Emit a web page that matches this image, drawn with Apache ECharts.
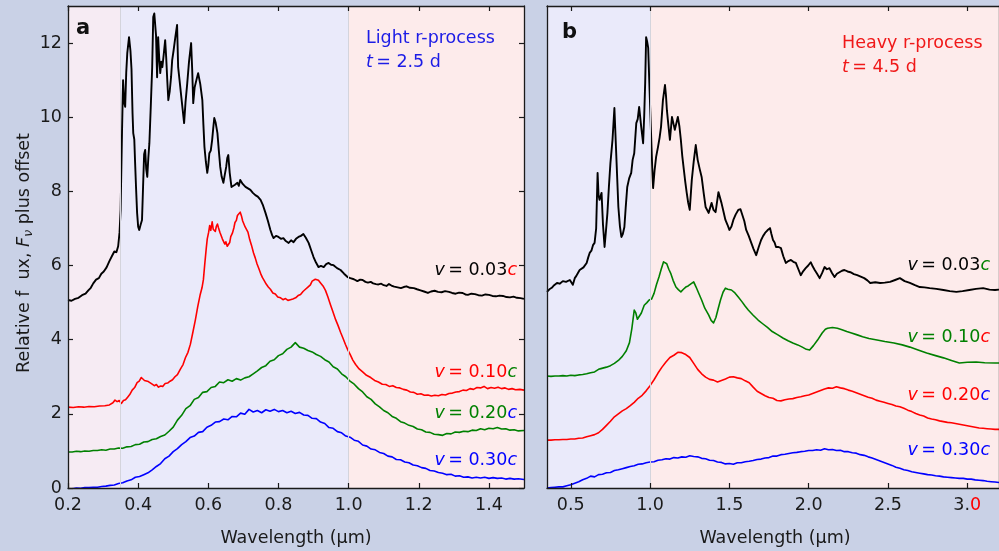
<!DOCTYPE html>
<html>
<head>
<meta charset="utf-8">
<script src="https://cdn.jsdelivr.net/npm/echarts@6.0.0/dist/echarts.min.js"></script>
<style>
  html, body { margin: 0; padding: 0; background: #c9d1e6; }
  #chart { width: 999px; height: 551px; }
</style>
</head>
<body>
<div id="chart"></div>
<script>
// Tick positions
const lightTicks = [0.2, 0.4, 0.6, 0.8, 1.0, 1.2, 1.4];
const heavyTicks = [0.5, 1.0, 1.5, 2.0, 2.5, 3.0];
const fluxTicks = [0, 2, 4, 6, 8, 10, 12];

// Panel a: light r-process, t = 2.5 d  ([wavelength µm, flux + offset])
const lightV003 = [
[0.200,5.07],[0.210,5.05],[0.220,5.10],[0.230,5.13],[0.240,5.20],[0.250,5.24],[0.258,5.33],[0.265,5.40],[0.272,5.52],[0.280,5.62],[0.288,5.66],[0.295,5.78],[0.302,5.84],[0.310,5.95],[0.318,6.12],[0.325,6.25],[0.332,6.38],[0.338,6.36],[0.343,6.52],[0.347,6.9],[0.350,7.5],[0.354,9.6],[0.357,11.00],[0.360,10.4],[0.363,10.28],[0.366,11.2],[0.369,11.73],[0.374,12.16],[0.378,11.8],[0.381,11.3],[0.384,10.1],[0.386,9.57],[0.389,9.4],[0.391,8.85],[0.394,8.1],[0.397,7.42],[0.400,7.05],[0.403,6.96],[0.407,7.1],[0.411,7.23],[0.414,8.12],[0.417,9.0],[0.420,9.12],[0.423,8.6],[0.426,8.39],[0.429,8.9],[0.432,9.3],[0.436,10.3],[0.440,11.35],[0.443,12.70],[0.446,12.8],[0.449,12.84],[0.451,12.2],[0.454,11.08],[0.457,12.16],[0.460,11.6],[0.463,11.19],[0.466,11.5],[0.469,11.35],[0.473,11.7],[0.477,12.08],[0.480,11.6],[0.483,11.00],[0.486,10.46],[0.490,10.7],[0.494,11.1],[0.497,11.54],[0.501,11.8],[0.506,12.16],[0.511,12.49],[0.514,11.35],[0.518,11.0],[0.523,10.55],[0.527,10.2],[0.531,9.84],[0.535,10.4],[0.540,10.92],[0.545,11.5],[0.551,12.00],[0.554,11.3],[0.557,10.38],[0.561,10.8],[0.566,11.00],[0.571,11.19],[0.577,10.9],[0.583,10.46],[0.586,9.8],[0.589,9.20],[0.593,8.8],[0.597,8.50],[0.600,8.7],[0.603,9.03],[0.607,9.1],[0.611,9.39],[0.614,9.7],[0.617,9.98],[0.621,9.85],[0.626,9.57],[0.630,9.1],[0.634,8.66],[0.638,8.4],[0.643,8.23],[0.647,8.45],[0.651,8.66],[0.654,8.9],[0.657,8.98],[0.661,8.5],[0.666,8.12],[0.671,8.09],[0.676,8.18],[0.683,8.23],[0.687,8.15],[0.691,8.31],[0.698,8.2],[0.706,8.12],[0.713,8.08],[0.720,8.04],[0.727,7.96],[0.734,7.90],[0.741,7.86],[0.749,7.77],[0.756,7.62],[0.763,7.42],[0.770,7.2],[0.777,6.96],[0.782,6.82],[0.786,6.74],[0.793,6.80],[0.800,6.77],[0.807,6.72],[0.814,6.74],[0.821,6.66],[0.829,6.61],[0.836,6.68],[0.843,6.63],[0.850,6.72],[0.857,6.77],[0.864,6.80],[0.871,6.85],[0.878,6.75],[0.886,6.61],[0.893,6.42],[0.900,6.23],[0.907,6.08],[0.914,5.96],[0.921,5.99],[0.929,5.96],[0.936,6.04],[0.943,6.07],[0.950,6.02],[0.957,6.01],[0.967,5.93],[0.977,5.88],[0.987,5.78],[0.997,5.69],[1.005,5.66],[1.015,5.63],[1.025,5.58],[1.033,5.62],[1.040,5.61],[1.048,5.56],[1.055,5.54],[1.063,5.56],[1.070,5.52],[1.078,5.50],[1.085,5.49],[1.093,5.51],[1.100,5.47],[1.108,5.45],[1.115,5.50],[1.122,5.46],[1.130,5.43],[1.140,5.41],[1.149,5.39],[1.157,5.42],[1.165,5.44],[1.175,5.40],[1.186,5.39],[1.195,5.36],[1.205,5.33],[1.215,5.30],[1.226,5.26],[1.235,5.30],[1.245,5.32],[1.255,5.29],[1.265,5.28],[1.275,5.31],[1.286,5.29],[1.295,5.26],[1.305,5.24],[1.315,5.27],[1.325,5.26],[1.333,5.22],[1.340,5.21],[1.350,5.24],[1.360,5.23],[1.370,5.20],[1.380,5.19],[1.390,5.22],[1.400,5.21],[1.410,5.18],[1.420,5.17],[1.430,5.19],[1.440,5.18],[1.450,5.15],[1.460,5.14],[1.470,5.16],[1.480,5.13],[1.490,5.12],[1.500,5.10]
];
const lightV010 = [
[0.200,2.18],[0.215,2.17],[0.230,2.19],[0.245,2.18],[0.260,2.20],[0.275,2.19],[0.290,2.21],[0.305,2.22],[0.318,2.24],[0.328,2.30],[0.334,2.37],[0.340,2.33],[0.346,2.36],[0.352,2.28],[0.358,2.36],[0.364,2.38],[0.370,2.45],[0.376,2.52],[0.383,2.64],[0.390,2.71],[0.397,2.84],[0.403,2.88],[0.409,2.98],[0.414,2.97],[0.418,2.90],[0.423,2.95],[0.429,2.87],[0.434,2.83],[0.440,2.80],[0.446,2.76],[0.452,2.79],[0.458,2.72],[0.464,2.75],[0.470,2.74],[0.477,2.82],[0.484,2.83],[0.491,2.88],[0.498,2.92],[0.505,3.00],[0.512,3.06],[0.520,3.20],[0.528,3.33],[0.535,3.52],[0.542,3.66],[0.549,3.88],[0.556,4.20],[0.563,4.53],[0.570,4.90],[0.577,5.22],[0.582,5.40],[0.586,5.62],[0.590,6.05],[0.594,6.45],[0.597,6.72],[0.601,6.90],[0.604,7.08],[0.607,6.95],[0.611,7.18],[0.614,6.98],[0.617,7.02],[0.620,6.92],[0.623,7.06],[0.626,7.12],[0.629,7.02],[0.633,6.90],[0.636,6.85],[0.640,6.72],[0.643,6.70],[0.647,6.58],[0.650,6.64],[0.654,6.52],[0.657,6.56],[0.661,6.62],[0.664,6.78],[0.669,6.88],[0.673,7.02],[0.676,7.16],[0.680,7.22],[0.683,7.35],[0.687,7.30],[0.691,7.44],[0.695,7.32],[0.698,7.20],[0.702,7.16],[0.705,7.04],[0.709,7.00],[0.713,6.90],[0.718,6.70],[0.723,6.55],[0.729,6.34],[0.734,6.20],[0.739,6.04],[0.744,5.92],[0.749,5.79],[0.754,5.68],[0.759,5.60],[0.765,5.50],[0.771,5.42],[0.777,5.36],[0.784,5.26],[0.791,5.23],[0.798,5.15],[0.806,5.13],[0.813,5.08],[0.820,5.11],[0.827,5.06],[0.834,5.08],[0.841,5.10],[0.849,5.13],[0.856,5.19],[0.863,5.22],[0.870,5.30],[0.877,5.36],[0.884,5.42],[0.891,5.48],[0.896,5.58],[0.900,5.55],[0.905,5.63],[0.909,5.66],[0.914,5.60],[0.920,5.53],[0.927,5.45],[0.934,5.33],[0.941,5.15],[0.948,4.95],[0.955,4.76],[0.963,4.54],[0.970,4.38],[0.977,4.20],[0.984,4.04],[0.991,3.87],[0.998,3.72],[1.005,3.59],[1.012,3.45],[1.020,3.33],[1.030,3.21],[1.040,3.13],[1.051,3.04],[1.063,2.98],[1.074,2.90],[1.085,2.86],[1.096,2.80],[1.106,2.79],[1.116,2.74],[1.126,2.76],[1.136,2.71],[1.146,2.70],[1.156,2.66],[1.166,2.64],[1.176,2.59],[1.186,2.58],[1.196,2.53],[1.206,2.54],[1.216,2.50],[1.226,2.51],[1.236,2.48],[1.246,2.50],[1.256,2.49],[1.266,2.52],[1.276,2.51],[1.286,2.55],[1.296,2.56],[1.306,2.59],[1.316,2.60],[1.326,2.64],[1.336,2.63],[1.346,2.68],[1.356,2.66],[1.366,2.71],[1.376,2.70],[1.386,2.74],[1.396,2.68],[1.406,2.71],[1.416,2.69],[1.426,2.72],[1.436,2.68],[1.446,2.70],[1.456,2.66],[1.466,2.68],[1.476,2.65],[1.488,2.66],[1.500,2.64]
];
const lightV020 = [
[0.200,0.97],[0.212,0.97],[0.224,0.99],[0.236,0.98],[0.248,1.00],[0.260,0.99],[0.272,1.01],[0.284,1.01],[0.296,1.03],[0.308,1.02],[0.320,1.05],[0.332,1.05],[0.344,1.08],[0.356,1.07],[0.368,1.11],[0.380,1.12],[0.392,1.17],[0.404,1.18],[0.416,1.24],[0.428,1.25],[0.440,1.31],[0.452,1.33],[0.464,1.39],[0.476,1.43],[0.488,1.53],[0.500,1.64],[0.512,1.83],[0.524,1.96],[0.536,2.14],[0.548,2.22],[0.560,2.39],[0.572,2.44],[0.584,2.58],[0.596,2.60],[0.608,2.71],[0.620,2.74],[0.632,2.86],[0.644,2.84],[0.656,2.92],[0.668,2.88],[0.680,2.95],[0.692,2.91],[0.704,2.97],[0.716,3.00],[0.728,3.08],[0.740,3.16],[0.752,3.25],[0.764,3.30],[0.776,3.42],[0.788,3.46],[0.800,3.57],[0.812,3.62],[0.824,3.74],[0.836,3.80],[0.848,3.92],[0.860,3.80],[0.872,3.77],[0.884,3.71],[0.896,3.67],[0.908,3.60],[0.920,3.55],[0.932,3.46],[0.944,3.40],[0.956,3.27],[0.968,3.21],[0.980,3.08],[0.992,3.00],[1.004,2.88],[1.016,2.80],[1.028,2.68],[1.040,2.59],[1.052,2.46],[1.064,2.39],[1.076,2.27],[1.088,2.19],[1.100,2.09],[1.112,2.03],[1.124,1.93],[1.136,1.88],[1.148,1.79],[1.160,1.75],[1.172,1.69],[1.184,1.66],[1.196,1.59],[1.208,1.57],[1.220,1.51],[1.232,1.50],[1.244,1.45],[1.256,1.44],[1.268,1.42],[1.280,1.47],[1.292,1.46],[1.304,1.51],[1.316,1.50],[1.328,1.53],[1.340,1.52],[1.352,1.56],[1.364,1.55],[1.376,1.60],[1.388,1.57],[1.400,1.61],[1.412,1.60],[1.424,1.63],[1.436,1.59],[1.448,1.60],[1.460,1.56],[1.472,1.57],[1.484,1.54],[1.500,1.55]
];
const lightV030 = [
[0.200,-0.03],[0.212,-0.02],[0.224,0.00],[0.236,-0.01],[0.248,0.01],[0.260,0.01],[0.272,0.02],[0.284,0.02],[0.296,0.04],[0.308,0.05],[0.320,0.07],[0.332,0.08],[0.344,0.12],[0.356,0.14],[0.368,0.19],[0.380,0.22],[0.392,0.29],[0.404,0.31],[0.416,0.36],[0.428,0.41],[0.440,0.49],[0.452,0.58],[0.464,0.66],[0.476,0.79],[0.488,0.86],[0.500,0.98],[0.512,1.06],[0.524,1.17],[0.536,1.25],[0.548,1.36],[0.560,1.40],[0.572,1.50],[0.584,1.52],[0.596,1.64],[0.608,1.69],[0.620,1.78],[0.632,1.79],[0.644,1.86],[0.656,1.84],[0.668,1.93],[0.680,1.92],[0.692,2.02],[0.704,1.99],[0.716,2.12],[0.728,2.05],[0.740,2.09],[0.752,2.03],[0.764,2.11],[0.776,2.07],[0.788,2.12],[0.800,2.06],[0.812,2.09],[0.824,2.03],[0.836,2.07],[0.848,2.01],[0.860,2.04],[0.872,1.97],[0.884,1.96],[0.896,1.88],[0.908,1.87],[0.920,1.78],[0.932,1.74],[0.944,1.63],[0.956,1.61],[0.968,1.52],[0.980,1.49],[0.992,1.40],[1.004,1.37],[1.016,1.29],[1.028,1.26],[1.040,1.16],[1.052,1.13],[1.064,1.05],[1.076,1.03],[1.088,0.96],[1.100,0.93],[1.112,0.86],[1.124,0.84],[1.136,0.77],[1.148,0.76],[1.160,0.70],[1.172,0.68],[1.184,0.62],[1.196,0.60],[1.208,0.55],[1.220,0.53],[1.232,0.47],[1.244,0.46],[1.256,0.42],[1.268,0.40],[1.280,0.36],[1.292,0.37],[1.304,0.32],[1.316,0.33],[1.328,0.29],[1.340,0.30],[1.352,0.27],[1.364,0.29],[1.376,0.27],[1.388,0.29],[1.400,0.26],[1.412,0.28],[1.424,0.26],[1.436,0.27],[1.448,0.24],[1.460,0.26],[1.472,0.24],[1.484,0.25],[1.500,0.23]
];

// Panel b: heavy r-process, t = 4.5 d
const heavyV003 = [
[0.350,5.29],[0.365,5.36],[0.380,5.40],[0.395,5.47],[0.413,5.53],[0.430,5.51],[0.450,5.58],[0.470,5.56],[0.494,5.61],[0.503,5.55],[0.513,5.48],[0.525,5.66],[0.535,5.72],[0.545,5.80],[0.556,5.88],[0.568,5.84],[0.580,5.95],[0.590,5.98],[0.600,6.07],[0.610,6.22],[0.619,6.34],[0.630,6.40],[0.640,6.55],[0.650,6.61],[0.660,7.0],[0.669,8.50],[0.675,7.9],[0.681,7.77],[0.694,7.96],[0.703,7.1],[0.713,6.50],[0.722,6.95],[0.731,7.42],[0.740,8.1],[0.750,8.77],[0.763,9.39],[0.775,10.25],[0.788,8.85],[0.800,7.58],[0.810,7.05],[0.819,6.77],[0.828,6.85],[0.838,7.04],[0.846,7.55],[0.856,8.12],[0.868,8.35],[0.881,8.50],[0.890,8.85],[0.900,9.03],[0.913,9.84],[0.922,9.95],[0.931,10.28],[0.944,9.74],[0.956,9.30],[0.963,10.05],[0.969,10.92],[0.975,12.16],[0.981,12.05],[0.988,11.87],[0.997,10.70],[1.006,9.57],[1.013,8.70],[1.019,8.09],[1.028,8.55],[1.038,8.93],[1.050,9.20],[1.060,9.45],[1.069,9.74],[1.081,10.46],[1.094,10.87],[1.100,10.60],[1.106,10.19],[1.115,9.80],[1.125,9.39],[1.138,10.01],[1.156,9.66],[1.175,10.01],[1.185,9.75],[1.194,9.39],[1.203,8.95],[1.213,8.58],[1.222,8.25],[1.231,7.96],[1.240,7.70],[1.250,7.50],[1.263,8.31],[1.275,8.80],[1.288,9.25],[1.300,8.85],[1.313,8.60],[1.325,8.39],[1.338,7.95],[1.350,7.58],[1.369,7.42],[1.388,7.69],[1.400,7.50],[1.413,7.44],[1.431,7.98],[1.450,7.69],[1.463,7.45],[1.475,7.23],[1.488,7.10],[1.500,6.96],[1.513,7.05],[1.525,7.23],[1.540,7.38],[1.556,7.50],[1.570,7.52],[1.581,7.48],[1.594,7.20],[1.606,6.96],[1.622,6.80],[1.638,6.61],[1.652,6.45],[1.669,6.28],[1.685,6.50],[1.700,6.69],[1.713,6.80],[1.725,6.88],[1.740,6.95],[1.756,7.01],[1.765,6.85],[1.775,6.69],[1.785,6.62],[1.794,6.50],[1.810,6.50],[1.825,6.47],[1.840,6.25],[1.856,6.07],[1.872,6.12],[1.888,6.15],[1.903,6.10],[1.919,6.07],[1.935,5.90],[1.950,5.74],[1.966,5.85],[1.981,5.93],[1.997,6.00],[2.013,6.09],[2.025,5.98],[2.038,5.88],[2.053,5.78],[2.069,5.66],[2.085,5.80],[2.100,5.96],[2.115,5.90],[2.131,5.93],[2.147,5.80],[2.163,5.69],[2.178,5.78],[2.194,5.82],[2.210,5.86],[2.225,5.88],[2.245,5.84],[2.263,5.82],[2.285,5.77],[2.306,5.74],[2.328,5.70],[2.350,5.66],[2.370,5.60],[2.388,5.53],[2.420,5.55],[2.450,5.53],[2.480,5.54],[2.513,5.56],[2.545,5.61],[2.575,5.66],[2.605,5.58],[2.638,5.53],[2.670,5.47],[2.700,5.42],[2.730,5.41],[2.763,5.39],[2.805,5.37],[2.850,5.34],[2.890,5.31],[2.931,5.29],[2.970,5.31],[3.013,5.34],[3.055,5.37],[3.100,5.39],[3.140,5.35],[3.175,5.34],[3.200,5.35]
];
const heavyV010 = [
[0.350,3.02],[0.375,3.01],[0.400,3.02],[0.425,3.02],[0.450,3.03],[0.475,3.02],[0.500,3.04],[0.525,3.03],[0.550,3.05],[0.575,3.06],[0.600,3.08],[0.625,3.11],[0.650,3.13],[0.675,3.20],[0.690,3.22],[0.700,3.18],[0.725,3.26],[0.750,3.30],[0.775,3.36],[0.800,3.44],[0.825,3.55],[0.850,3.70],[0.870,3.92],[0.885,4.30],[0.900,4.80],[0.910,4.72],[0.920,4.55],[0.931,4.50],[0.945,4.72],[0.963,4.93],[0.980,5.00],[0.994,5.07],[1.010,5.10],[1.025,5.25],[1.040,5.48],[1.056,5.69],[1.070,5.90],[1.085,6.10],[1.094,6.15],[1.105,6.05],[1.118,5.90],[1.131,5.78],[1.145,5.60],[1.163,5.42],[1.178,5.35],[1.194,5.29],[1.210,5.36],[1.225,5.42],[1.240,5.45],[1.255,5.50],[1.275,5.56],[1.290,5.42],[1.306,5.26],[1.325,5.07],[1.345,4.85],[1.369,4.67],[1.385,4.52],[1.400,4.45],[1.415,4.60],[1.430,4.85],[1.444,5.07],[1.460,5.28],[1.475,5.39],[1.490,5.36],[1.513,5.34],[1.535,5.26],[1.556,5.15],[1.580,5.02],[1.600,4.90],[1.619,4.80],[1.650,4.66],[1.681,4.53],[1.710,4.43],[1.740,4.33],[1.770,4.22],[1.806,4.13],[1.840,4.04],[1.870,3.97],[1.900,3.91],[1.931,3.86],[1.960,3.80],[1.985,3.74],[2.006,3.72],[2.030,3.84],[2.056,3.99],[2.085,4.18],[2.105,4.28],[2.119,4.31],[2.150,4.33],[2.181,4.31],[2.210,4.27],[2.240,4.22],[2.270,4.18],[2.306,4.13],[2.340,4.08],[2.380,4.03],[2.431,3.99],[2.480,3.95],[2.538,3.91],[2.590,3.86],[2.638,3.80],[2.690,3.72],[2.744,3.64],[2.800,3.57],[2.850,3.51],[2.900,3.44],[2.950,3.37],[3.000,3.39],[3.056,3.40],[3.110,3.38],[3.175,3.37],[3.200,3.37]
];
const heavyV020 = [
[0.350,1.29],[0.375,1.29],[0.400,1.30],[0.425,1.30],[0.450,1.31],[0.475,1.31],[0.500,1.32],[0.525,1.32],[0.550,1.34],[0.575,1.35],[0.600,1.38],[0.625,1.41],[0.650,1.44],[0.675,1.49],[0.700,1.58],[0.725,1.69],[0.750,1.80],[0.775,1.92],[0.800,2.00],[0.825,2.08],[0.850,2.14],[0.875,2.22],[0.900,2.31],[0.925,2.42],[0.950,2.50],[0.975,2.62],[1.000,2.76],[1.025,2.92],[1.050,3.10],[1.075,3.26],[1.100,3.40],[1.125,3.52],[1.150,3.58],[1.175,3.66],[1.200,3.65],[1.225,3.60],[1.250,3.52],[1.275,3.36],[1.300,3.20],[1.325,3.08],[1.350,2.99],[1.375,2.93],[1.400,2.91],[1.425,2.86],[1.450,2.90],[1.475,2.94],[1.500,2.99],[1.525,3.00],[1.550,2.97],[1.575,2.95],[1.600,2.89],[1.625,2.84],[1.650,2.72],[1.675,2.61],[1.700,2.55],[1.725,2.49],[1.750,2.44],[1.775,2.42],[1.800,2.36],[1.825,2.35],[1.850,2.38],[1.875,2.40],[1.900,2.41],[1.925,2.44],[1.950,2.46],[1.975,2.49],[2.000,2.51],[2.025,2.55],[2.050,2.59],[2.075,2.63],[2.100,2.67],[2.125,2.70],[2.150,2.69],[2.175,2.73],[2.200,2.70],[2.225,2.68],[2.250,2.64],[2.275,2.61],[2.300,2.57],[2.325,2.53],[2.350,2.49],[2.375,2.45],[2.400,2.42],[2.425,2.37],[2.450,2.34],[2.475,2.31],[2.500,2.28],[2.525,2.25],[2.550,2.21],[2.575,2.19],[2.600,2.15],[2.625,2.10],[2.650,2.06],[2.675,2.01],[2.700,1.97],[2.725,1.94],[2.750,1.89],[2.775,1.86],[2.800,1.84],[2.825,1.81],[2.850,1.79],[2.875,1.77],[2.900,1.76],[2.925,1.74],[2.950,1.72],[2.975,1.70],[3.000,1.68],[3.025,1.66],[3.050,1.64],[3.075,1.62],[3.100,1.61],[3.125,1.60],[3.150,1.59],[3.175,1.58],[3.200,1.58]
];
const heavyV030 = [
[0.350,0.00],[0.375,0.01],[0.400,0.02],[0.425,0.03],[0.450,0.03],[0.475,0.06],[0.500,0.09],[0.525,0.13],[0.550,0.17],[0.575,0.22],[0.600,0.26],[0.625,0.32],[0.650,0.30],[0.675,0.36],[0.700,0.37],[0.725,0.41],[0.750,0.42],[0.775,0.47],[0.800,0.49],[0.825,0.52],[0.850,0.55],[0.875,0.58],[0.900,0.60],[0.925,0.64],[0.950,0.65],[0.975,0.68],[1.000,0.70],[1.025,0.71],[1.050,0.75],[1.075,0.76],[1.100,0.79],[1.125,0.78],[1.150,0.82],[1.175,0.81],[1.200,0.84],[1.225,0.83],[1.250,0.87],[1.275,0.85],[1.300,0.84],[1.325,0.80],[1.350,0.79],[1.375,0.75],[1.400,0.74],[1.425,0.70],[1.450,0.69],[1.475,0.65],[1.500,0.66],[1.525,0.64],[1.550,0.68],[1.575,0.68],[1.600,0.71],[1.625,0.72],[1.650,0.74],[1.675,0.77],[1.700,0.78],[1.725,0.81],[1.750,0.82],[1.775,0.86],[1.800,0.86],[1.825,0.90],[1.850,0.91],[1.875,0.93],[1.900,0.95],[1.925,0.96],[1.950,0.98],[1.975,0.99],[2.000,1.01],[2.025,1.01],[2.050,1.03],[2.075,1.02],[2.100,1.06],[2.125,1.03],[2.150,1.04],[2.175,1.01],[2.200,1.02],[2.225,0.98],[2.250,0.98],[2.275,0.95],[2.300,0.94],[2.325,0.90],[2.350,0.88],[2.375,0.84],[2.400,0.81],[2.425,0.77],[2.450,0.73],[2.475,0.69],[2.500,0.65],[2.525,0.61],[2.550,0.56],[2.575,0.53],[2.600,0.49],[2.625,0.47],[2.650,0.44],[2.675,0.42],[2.700,0.40],[2.725,0.38],[2.750,0.36],[2.775,0.35],[2.800,0.33],[2.825,0.32],[2.850,0.30],[2.875,0.29],[2.900,0.28],[2.925,0.27],[2.950,0.26],[2.975,0.26],[3.000,0.24],[3.025,0.24],[3.050,0.22],[3.075,0.21],[3.100,0.20],[3.125,0.18],[3.150,0.17],[3.175,0.16],[3.200,0.15]
];

const FONT = "'DejaVu Sans', sans-serif";
const AXIS_COLOR = '#1a1a1a';
const C = { black: '#000000', red: '#ff0000', green: '#008000', blue: '#0000ff' };
const BG = { lav: '#eaeafa', pink: '#fdebeb', mix: '#f6ebf3' };

const chart = echarts.init(document.getElementById('chart'), null, { renderer: 'canvas' });

function xAx(grid, min, max, ticks, pos, labels, fmt) {
  return {
    type: 'value', gridIndex: grid, min: min, max: max, position: pos, z: 10,
    splitLine: { show: false },
    axisLine: { show: true, onZero: false, lineStyle: { color: AXIS_COLOR, width: 1.3 } },
    axisTick: { show: true, inside: true, length: 5, customValues: ticks, lineStyle: { color: AXIS_COLOR, width: 1.2 } },
    axisLabel: labels ? {
      show: true, customValues: ticks, margin: 8, color: '#1a1a1a', fontSize: 17.5, fontFamily: FONT,
      formatter: fmt,
      rich: {
        k: { color: '#1a1a1a', fontSize: 17.5, fontFamily: FONT },
        r: { color: C.red, fontSize: 17.5, fontFamily: FONT }
      }
    } : { show: false }
  };
}
function yAx(grid, pos, ticks, labels) {
  return {
    type: 'value', gridIndex: grid, min: 0, max: 13, position: pos, z: 10,
    splitLine: { show: false },
    axisLine: { show: true, onZero: false, lineStyle: { color: AXIS_COLOR, width: 1.3 } },
    axisTick: ticks ? { show: true, inside: true, length: 5, customValues: fluxTicks, lineStyle: { color: AXIS_COLOR, width: 1.2 } } : { show: false },
    axisLabel: labels ? { show: true, customValues: fluxTicks, margin: 6, color: '#1a1a1a', fontSize: 17.5, fontFamily: FONT } : { show: false }
  };
}

function spectrum(data, color, xi, yi, w) {
  return {
    type: 'line', data: data, xAxisIndex: xi, yAxisIndex: yi, z: 3,
    showSymbol: false, symbol: 'none', smooth: false, silent: true,
    lineStyle: { color: color, width: w || 1.6, join: 'round' }
  };
}

function backdrop(xi, yi, areas, lines) {
  return {
    type: 'line', data: [], xAxisIndex: xi, yAxisIndex: yi, z: 1, silent: true,
    markArea: { silent: true, data: areas.map(a => [{ xAxis: a[0], itemStyle: { color: a[2] } }, { xAxis: a[1] }]) },
    markLine: { silent: true, symbol: ['none', 'none'], label: { show: false },
      lineStyle: { color: '#d4d4dc', width: 1, type: 'solid' },
      data: lines.map(v => ({ xAxis: v })) }
  };
}

const velLabel = (x, y, num, numColor, cColor) => ({
  type: 'text', x: x, y: y, z: 20,
  style: {
    text: '{v|v} {n|= ' + num + '}{c|c}',
    align: 'right', verticalAlign: 'middle',
    rich: {
      v: { fontFamily: FONT, fontSize: 17.5, fontStyle: 'italic', fill: numColor },
      n: { fontFamily: FONT, fontSize: 17.5, fill: numColor },
      c: { fontFamily: FONT, fontSize: 17.5, fontStyle: 'italic', fill: cColor }
    }
  }
});

const option = {
  backgroundColor: '#c9d1e6',
  animation: false,
  grid: [
    { left: 68, top: 6, width: 456, height: 482 },
    { left: 547, top: 6, width: 456, height: 482 }
  ],
  xAxis: [
    xAx(0, 0.2, 1.5, lightTicks, 'bottom', true, v => v.toFixed(1)),
    xAx(0, 0.2, 1.5, lightTicks, 'top', false),
    xAx(1, 0.35, 3.2, heavyTicks, 'bottom', true, v => (Math.abs(v - 3) < 1e-9 ? '{k|3.}{r|0}' : v.toFixed(1))),
    xAx(1, 0.35, 3.2, heavyTicks, 'top', false)
  ],
  yAxis: [
    yAx(0, 'left', true, true),
    yAx(0, 'right', true, false),
    yAx(1, 'left', false, false),
    yAx(1, 'right', false, false)
  ],
  series: [
    backdrop(0, 0, [[0.2, 0.35, BG.mix], [0.35, 1.0, BG.lav], [1.0, 1.5, BG.pink]], [0.35, 1.0]),
    backdrop(2, 2, [[0.35, 1.0, BG.lav], [1.0, 3.2, BG.pink]], [1.0]),
    spectrum(lightV030, C.blue, 0, 0),
    spectrum(lightV020, C.green, 0, 0),
    spectrum(lightV010, C.red, 0, 0),
    spectrum(lightV003, C.black, 0, 0, 1.9),
    spectrum(heavyV030, C.blue, 2, 2),
    spectrum(heavyV020, C.red, 2, 2),
    spectrum(heavyV010, C.green, 2, 2),
    spectrum(heavyV003, C.black, 2, 2, 1.9)
  ],
  graphic: [
    { type: 'text', x: 76, y: 29, z: 20, style: { text: 'a', font: 'bold 21px ' + FONT, fill: '#111', verticalAlign: 'middle' } },
    { type: 'text', x: 562, y: 33, z: 20, style: { text: 'b', font: 'bold 21px ' + FONT, fill: '#111', verticalAlign: 'middle' } },
    { type: 'text', x: 366, y: 38, z: 20, style: { text: 'Light r-process', font: '17.5px ' + FONT, fill: '#1c1ce6', verticalAlign: 'middle' } },
    { type: 'text', x: 366, y: 62, z: 20, style: {
        text: '{i|t} {n|= 2.5 d}', verticalAlign: 'middle',
        rich: { i: { fontFamily: FONT, fontSize: 17.5, fontStyle: 'italic', fill: '#1c1ce6' }, n: { fontFamily: FONT, fontSize: 17.5, fill: '#1c1ce6' } } } },
    { type: 'text', x: 842, y: 43, z: 20, style: { text: 'Heavy r-process', font: '17.5px ' + FONT, fill: '#f01818', verticalAlign: 'middle' } },
    { type: 'text', x: 842, y: 67, z: 20, style: {
        text: '{i|t} {n|= 4.5 d}', verticalAlign: 'middle',
        rich: { i: { fontFamily: FONT, fontSize: 17.5, fontStyle: 'italic', fill: '#f01818' }, n: { fontFamily: FONT, fontSize: 17.5, fill: '#f01818' } } } },
    velLabel(517, 270, '0.03', C.black, C.red),
    velLabel(517, 372, '0.10', C.red, C.green),
    velLabel(517, 413, '0.20', C.green, C.blue),
    velLabel(517, 460, '0.30', C.blue, C.blue),
    velLabel(990, 265, '0.03', C.black, C.green),
    velLabel(990, 337, '0.10', C.green, C.red),
    velLabel(990, 395, '0.20', C.red, C.blue),
    velLabel(990, 450, '0.30', C.blue, C.blue),
    { type: 'text', x: 296, y: 538, z: 20, style: { text: 'Wavelength (µm)', font: '17.5px ' + FONT, fill: '#1a1a1a', align: 'center', verticalAlign: 'middle' } },
    { type: 'text', x: 775, y: 538, z: 20, style: { text: 'Wavelength (µm)', font: '17.5px ' + FONT, fill: '#1a1a1a', align: 'center', verticalAlign: 'middle' } },
    { type: 'text', x: 24, y: 253, z: 20, rotation: Math.PI / 2, style: {
        text: '{n|Relative f  ux, }{i|F}{s|ν}{n| plus offset}', align: 'center', verticalAlign: 'middle',
        rich: {
          n: { fontFamily: FONT, fontSize: 17.5, fill: '#1a1a1a' },
          i: { fontFamily: FONT, fontSize: 17.5, fontStyle: 'italic', fill: '#1a1a1a' },
          s: { fontFamily: FONT, fontSize: 12.5, fontStyle: 'italic', fill: '#1a1a1a', padding: [10, 0, 0, 0] }
        } } }
  ]
};
chart.setOption(option);
</script>
</body>
</html>
